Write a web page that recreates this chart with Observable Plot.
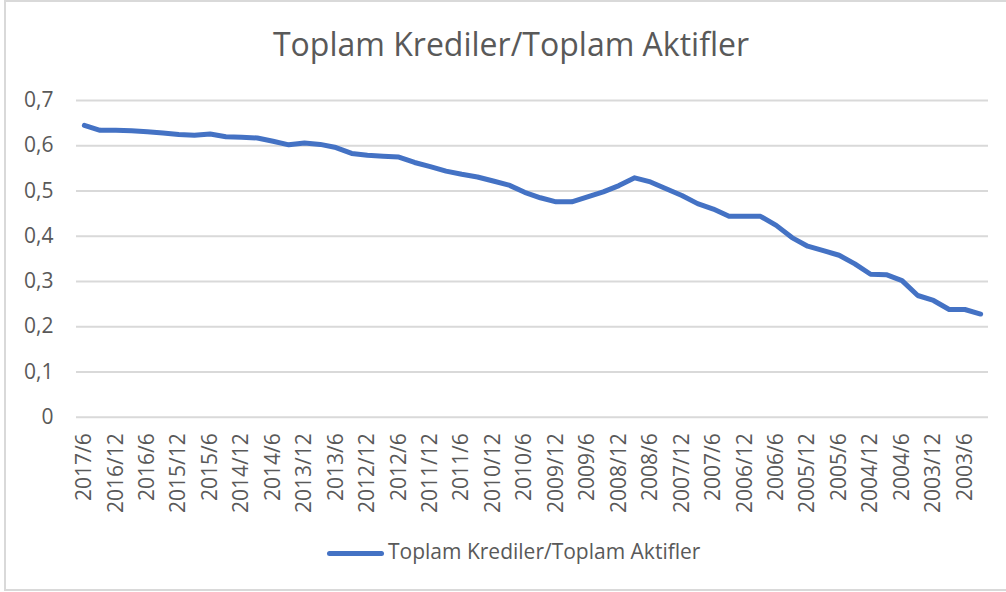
<!DOCTYPE html>
<html>
<head>
<meta charset="utf-8">
<script src="https://cdn.jsdelivr.net/npm/d3@7"></script>
<script src="https://cdn.jsdelivr.net/npm/@observablehq/plot@0.6"></script>
<style>
  html, body { margin: 0; padding: 0; background: #ffffff; overflow: hidden; }
  #wrap { position: relative; width: 1006px; height: 592px; overflow: hidden; font-family: "Open Sans", sans-serif; color: #595959; }
  #frame { position: absolute; left: 4px; top: 0px; width: 1020px; height: 591px; border: 2px solid #d9d9d9; box-sizing: border-box; }
  #title { position: absolute; left: 511px; top: 28px; transform: translateX(-50%); white-space: nowrap; font-size: 32px; line-height: 32px; color: #595959; }
  #chart { position: absolute; left: 0; top: 80px; }
  #legend { position: absolute; left: 327px; top: 541px; height: 24px; white-space: nowrap; }
  #legend .swatch { position: absolute; left: 0; top: 9.5px; width: 57px; height: 5px; border-radius: 2.5px; background: #4472C4; }
  #legend .label { position: absolute; left: 61px; top: 0; font-size: 21px; line-height: 21px; color: #595959; }
</style>
</head>
<body>
<div id="wrap">
  <div id="frame"></div>
  <div id="title">Toplam Krediler/Toplam Aktifler</div>
  <div id="chart"></div>
  <div id="legend"><div class="swatch"></div><div class="label">Toplam Krediler/Toplam Aktifler</div></div>
</div>
<script>
const seriesName = "Toplam Krediler/Toplam Aktifler";

const periods = [
  "2017/6", "2017/3", "2016/12", "2016/9", "2016/6", "2016/3",
  "2015/12", "2015/9", "2015/6", "2015/3", "2014/12", "2014/9",
  "2014/6", "2014/3", "2013/12", "2013/9", "2013/6", "2013/3",
  "2012/12", "2012/9", "2012/6", "2012/3", "2011/12", "2011/9",
  "2011/6", "2011/3", "2010/12", "2010/9", "2010/6", "2010/3",
  "2009/12", "2009/9", "2009/6", "2009/3", "2008/12", "2008/9",
  "2008/6", "2008/3", "2007/12", "2007/9", "2007/6", "2007/3",
  "2006/12", "2006/9", "2006/6", "2006/3", "2005/12", "2005/9",
  "2005/6", "2005/3", "2004/12", "2004/9", "2004/6", "2004/3",
  "2003/12", "2003/9", "2003/6", "2003/3"
];

const values = [
  0.645, 0.634, 0.634, 0.633, 0.631, 0.628,
  0.625, 0.623, 0.626, 0.620, 0.619, 0.617,
  0.610, 0.602, 0.606, 0.603, 0.596, 0.583,
  0.579, 0.577, 0.575, 0.563, 0.554, 0.544,
  0.537, 0.531, 0.522, 0.513, 0.497, 0.485,
  0.476, 0.476, 0.487, 0.498, 0.512, 0.529,
  0.520, 0.505, 0.490, 0.472, 0.460, 0.444,
  0.444, 0.444, 0.424, 0.397, 0.378, 0.368,
  0.358, 0.339, 0.316, 0.315, 0.302, 0.269,
  0.258, 0.238, 0.238, 0.228
];

const xTickLabels = [
  "2017/6", "2016/12", "2016/6", "2015/12", "2015/6", "2014/12",
  "2014/6", "2013/12", "2013/6", "2012/12", "2012/6", "2011/12",
  "2011/6", "2010/12", "2010/6", "2009/12", "2009/6", "2008/12",
  "2008/6", "2007/12", "2007/6", "2006/12", "2006/6", "2005/12",
  "2005/6", "2004/12", "2004/6", "2003/12", "2003/6"
];

const yTicks = [0, 0.1, 0.2, 0.3, 0.4, 0.5, 0.6, 0.7];

const rows = periods.map((p, i) => ({period: p, value: values[i], series: seriesName}));

const chart = Plot.plot({
  width: 1006,
  height: 450,
  marginLeft: 76,
  marginRight: 18,
  marginTop: 20,
  marginBottom: 113.3,
  style: {fontFamily: "'Open Sans', sans-serif", fontSize: "21px", color: "#595959", background: "transparent", overflow: "visible"},
  x: {type: "point", domain: periods, padding: 0.5, label: null},
  y: {domain: [0, 0.7], label: null},
  marks: [
    Plot.gridY(yTicks, {stroke: "#d9d9d9", strokeOpacity: 1, strokeWidth: 2}),
    Plot.axisY(yTicks, {tickSize: 0, tickPadding: 23, fill: "#595959", label: null, tickFormat: d => d === 0 ? "0" : d.toFixed(1).replace(".", ",")}),
    Plot.axisX(xTickLabels, {tickSize: 0, tickPadding: 16, tickRotate: -90, fill: "#595959", label: null}),
    Plot.line(rows, {x: "period", y: "value", stroke: "#4472C4", strokeWidth: 5, strokeLinejoin: "round", strokeLinecap: "round"})
  ]
});
document.getElementById("chart").appendChild(chart);
</script>
</body>
</html>
